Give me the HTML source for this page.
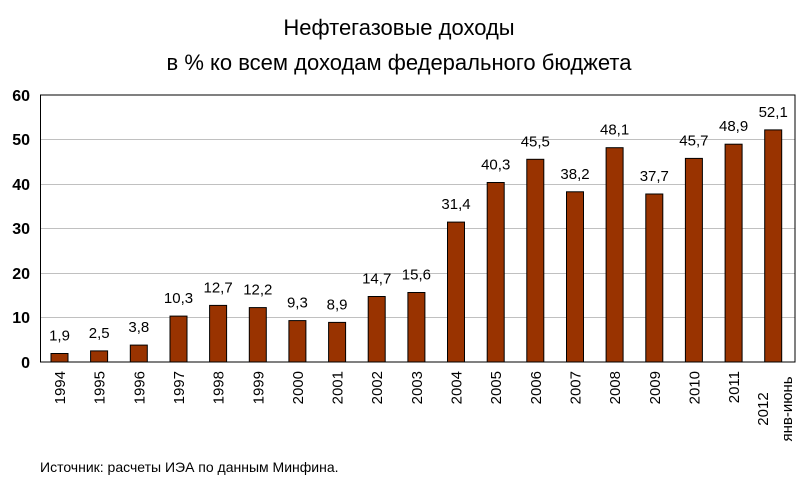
<!DOCTYPE html>
<html><head><meta charset="utf-8"><style>body{margin:0;background:#fff}svg{display:block}</style></head>
<body>
<svg width="800" height="500" xmlns="http://www.w3.org/2000/svg" font-family="Liberation Sans, Arial, sans-serif">
<rect width="800" height="500" fill="#fff"/>
<text x="399" y="35" font-size="22" text-anchor="middle">Нефтегазовые доходы</text>
<text x="399" y="70" font-size="22" text-anchor="middle">в % ко всем доходам федерального бюджета</text>
<g stroke="#c0c0c0" stroke-width="1">
<line x1="40" x2="795" y1="139.5" y2="139.5"/>
<line x1="40" x2="795" y1="184.5" y2="184.5"/>
<line x1="40" x2="795" y1="228.5" y2="228.5"/>
<line x1="40" x2="795" y1="273.5" y2="273.5"/>
<line x1="40" x2="795" y1="317.5" y2="317.5"/>
</g>
<rect x="40.5" y="95" width="754.5" height="267" fill="none" stroke="#000" stroke-width="1"/>
<g font-size="16" font-weight="bold" text-anchor="end">
<text x="30" y="101">60</text><text x="30" y="145">50</text><text x="30" y="190">40</text>
<text x="30" y="234">30</text><text x="30" y="279">20</text><text x="30" y="323">10</text><text x="30" y="368">0</text>
</g>
<g fill="#993300" stroke="#000" stroke-width="1">
<rect x="51" y="353.5" width="17" height="8.5"/>
<rect x="90.6" y="350.9" width="17" height="11.1"/>
<rect x="130.3" y="345.1" width="17" height="16.9"/>
<rect x="170" y="316.1" width="17" height="45.9"/>
<rect x="209.6" y="305.4" width="17" height="56.6"/>
<rect x="249.3" y="307.6" width="17" height="54.4"/>
<rect x="288.9" y="320.6" width="17" height="41.4"/>
<rect x="328.6" y="322.4" width="17" height="39.6"/>
<rect x="368.2" y="296.5" width="17" height="65.5"/>
<rect x="407.9" y="292.5" width="17" height="69.5"/>
<rect x="447.5" y="222.1" width="17" height="139.9"/>
<rect x="487.2" y="182.5" width="17" height="179.5"/>
<rect x="526.8" y="159.3" width="17" height="202.7"/>
<rect x="566.5" y="191.8" width="17" height="170.2"/>
<rect x="606.1" y="147.7" width="17" height="214.3"/>
<rect x="645.8" y="194" width="17" height="168"/>
<rect x="685.4" y="158.4" width="17" height="203.6"/>
<rect x="725.1" y="144.2" width="17" height="217.8"/>
<rect x="764.7" y="129.9" width="17" height="232.1"/>
</g>
<g font-size="15" text-anchor="middle">
<text x="59.5" y="340.5">1,9</text>
<text x="99.2" y="337.9">2,5</text>
<text x="138.8" y="332.1">3,8</text>
<text x="178.5" y="303.1">10,3</text>
<text x="218.1" y="292.4">12,7</text>
<text x="257.8" y="294.6">12,2</text>
<text x="297.4" y="307.6">9,3</text>
<text x="337.1" y="309.4">8,9</text>
<text x="376.7" y="283.5">14,7</text>
<text x="416.4" y="279.5">15,6</text>
<text x="456" y="209.1">31,4</text>
<text x="495.7" y="169.5">40,3</text>
<text x="535.3" y="146.3">45,5</text>
<text x="575" y="178.8">38,2</text>
<text x="614.6" y="134.7">48,1</text>
<text x="654.3" y="181">37,7</text>
<text x="693.9" y="145.4">45,7</text>
<text x="733.6" y="131.2">48,9</text>
<text x="773.2" y="116.9">52,1</text>
</g>
<g font-size="15" text-anchor="end">
<text transform="translate(65,371) rotate(-90)">1994</text>
<text transform="translate(104.7,371) rotate(-90)">1995</text>
<text transform="translate(144.3,371) rotate(-90)">1996</text>
<text transform="translate(184,371) rotate(-90)">1997</text>
<text transform="translate(223.6,371) rotate(-90)">1998</text>
<text transform="translate(263.3,371) rotate(-90)">1999</text>
<text transform="translate(302.9,371) rotate(-90)">2000</text>
<text transform="translate(342.6,371) rotate(-90)">2001</text>
<text transform="translate(382.2,371) rotate(-90)">2002</text>
<text transform="translate(421.9,371) rotate(-90)">2003</text>
<text transform="translate(461.5,371) rotate(-90)">2004</text>
<text transform="translate(501.2,371) rotate(-90)">2005</text>
<text transform="translate(540.8,371) rotate(-90)">2006</text>
<text transform="translate(580.5,371) rotate(-90)">2007</text>
<text transform="translate(620.1,371) rotate(-90)">2008</text>
<text transform="translate(659.8,371) rotate(-90)">2009</text>
<text transform="translate(699.4,371) rotate(-90)">2010</text>
<text transform="translate(739.1,371) rotate(-90)">2011</text>
</g>
<g font-size="15" text-anchor="middle">
<text transform="translate(768,409) rotate(-90)">2012</text>
<text transform="translate(792,409) rotate(-90)">янв-июнь</text>
</g>
<text x="40" y="472" font-size="14">Источник: расчеты ИЭА по данным Минфина.</text>
</svg>
</body></html>
